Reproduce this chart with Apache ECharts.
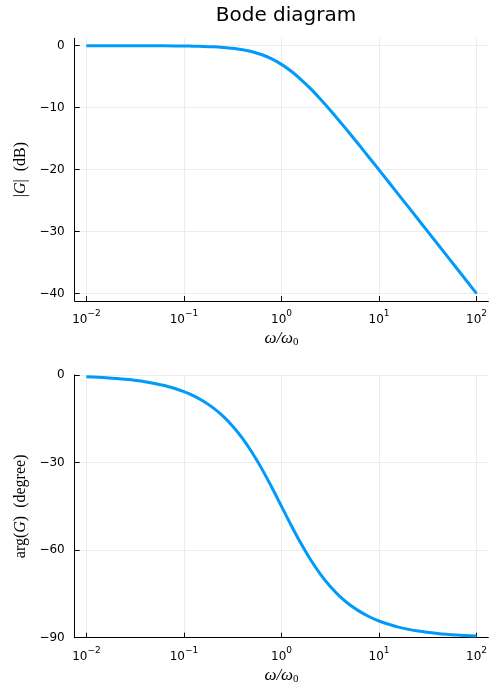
<!DOCTYPE html>
<html>
<head>
<meta charset="utf-8">
<script src="https://cdn.jsdelivr.net/npm/echarts@6/dist/echarts.min.js"></script>
<style>html,body{margin:0;padding:0;background:#fff}#c{width:500px;height:700px}</style>
</head>
<body>
<div id="c"></div>
<script>
// log10(omega/omega0) sample positions
var logOmega = [-2, -1.8, -1.6, -1.4, -1.2, -1.0, -0.9, -0.8, -0.7, -0.6, -0.5, -0.4, -0.3, -0.2, -0.1,
                0, 0.1, 0.2, 0.3, 0.4, 0.5, 0.6, 0.7, 0.8, 0.9, 1.0, 1.2, 1.4, 1.6, 1.8, 2.0];
// magnitude |G| in dB
var magDB = [0.00, 0.00, 0.00, -0.01, -0.02, -0.04, -0.07, -0.11, -0.17, -0.27, -0.41, -0.64, -0.97, -1.46, -2.12,
             -3.01, -4.12, -5.46, -6.97, -8.64, -10.41, -12.27, -14.17, -16.11, -18.07, -20.04, -24.02, -28.01, -32.00, -36.00, -40.00];
// phase arg(G) in degrees
var phaseDeg = [-0.57, -0.91, -1.44, -2.28, -3.61, -5.71, -7.18, -9.01, -11.28, -14.10, -17.55, -21.70, -26.62, -32.25, -38.46,
                -45.00, -51.54, -57.75, -63.38, -68.30, -72.45, -75.90, -78.72, -80.99, -82.82, -84.29, -86.39, -87.72, -88.56, -89.09, -89.43];
var xTicks = [-2, -1, 0, 1, 2];
var magTicks = [-40, -30, -20, -10, 0];
var phaseTicks = [-90, -60, -30, 0];

var chart = echarts.init(document.getElementById('c'), null, {renderer: 'canvas'});
function pairs(xs, ys) { return xs.map(function (x, i) { return [x, ys[i]]; }); }
function minus(v) { return String(v).replace('-', '\u2212'); }
var tickFont = 'DejaVu Sans';
var gridColor = '#ececec';
var serif = 'Liberation Serif';

function xAxisDef(gi) {
  return {
    type: 'value', gridIndex: gi, min: -2.12, max: 2.12,
    name: '{i|ω/ω}{sub|0}', nameLocation: 'middle', nameGap: 29,
    nameTextStyle: {
      rich: {
        i: {fontFamily: serif, fontStyle: 'italic', fontSize: 17, color: '#000'},
        sub: {fontFamily: serif, fontStyle: 'normal', fontSize: 11, color: '#000', verticalAlign: 'bottom', padding: [7, 0, 0, 0]}
      }
    },
    axisLine: {show: true, onZero: false, lineStyle: {color: '#000', width: 1}},
    axisTick: {show: true, inside: true, length: 5, customValues: xTicks, lineStyle: {color: '#000'}},
    splitLine: {show: true, customValues: xTicks, lineStyle: {color: gridColor, width: 1}},
    axisLabel: {
      customValues: xTicks, margin: 8,
      formatter: function (v) { return '{b|10}{s|' + minus(v) + '}'; },
      rich: {
        b: {fontFamily: tickFont, fontSize: 12, color: '#000', verticalAlign: 'bottom'},
        s: {fontFamily: tickFont, fontSize: 9, color: '#000', verticalAlign: 'top', padding: [0, 0, 8, 0]}
      }
    }
  };
}

var yNameStyle = {fontFamily: serif, fontSize: 16, color: '#000',
  rich: {i: {fontFamily: serif, fontStyle: 'italic', fontSize: 16, color: '#000'}}};

var option = {
  animation: false,
  backgroundColor: '#fff',
  title: {
    text: 'Bode diagram', left: 281, top: 1, textAlign: 'center',
    textStyle: {fontFamily: tickFont, fontSize: 20, fontWeight: 'normal', color: '#000'}
  },
  grid: [
    {left: 74.7, right: 11.7, top: 38.3, height: 262.7, containLabel: false},
    {left: 74.7, right: 11.7, top: 375, height: 262.7, containLabel: false}
  ],
  xAxis: [xAxisDef(0), xAxisDef(1)],
  yAxis: [
    {
      type: 'value', gridIndex: 0, min: -41.2, max: 1.2,
      name: '|{i|G}|  (dB)', nameLocation: 'middle', nameGap: 45, nameRotate: 90,
      nameTextStyle: yNameStyle,
      axisLine: {show: true, onZero: false, lineStyle: {color: '#000', width: 1}},
      axisTick: {show: true, inside: true, length: 5, customValues: magTicks, lineStyle: {color: '#000'}},
      splitLine: {show: true, customValues: magTicks, lineStyle: {color: gridColor, width: 1}},
      axisLabel: {customValues: magTicks, margin: 10, fontFamily: tickFont, fontSize: 12, color: '#000', formatter: minus}
    },
    {
      type: 'value', gridIndex: 1, min: -90, max: 0, interval: 30,
      name: 'arg({i|G})  (degree)', nameLocation: 'middle', nameGap: 45, nameRotate: 90,
      nameTextStyle: yNameStyle,
      axisLine: {show: true, onZero: false, lineStyle: {color: '#000', width: 1}},
      axisTick: {show: true, inside: true, length: 5, lineStyle: {color: '#000'}},
      splitLine: {show: true, lineStyle: {color: gridColor, width: 1}},
      axisLabel: {margin: 10, fontFamily: tickFont, fontSize: 12, color: '#000', formatter: minus}
    }
  ],
  series: [
    {type: 'line', xAxisIndex: 0, yAxisIndex: 0, data: pairs(logOmega, magDB), showSymbol: false, smooth: 0.3,
     lineStyle: {color: '#009AFA', width: 3}, itemStyle: {color: '#009AFA'}},
    {type: 'line', xAxisIndex: 1, yAxisIndex: 1, data: pairs(logOmega, phaseDeg), showSymbol: false, smooth: 0.3,
     lineStyle: {color: '#009AFA', width: 3}, itemStyle: {color: '#009AFA'}}
  ]
};
chart.setOption(option);
</script>
</body>
</html>
